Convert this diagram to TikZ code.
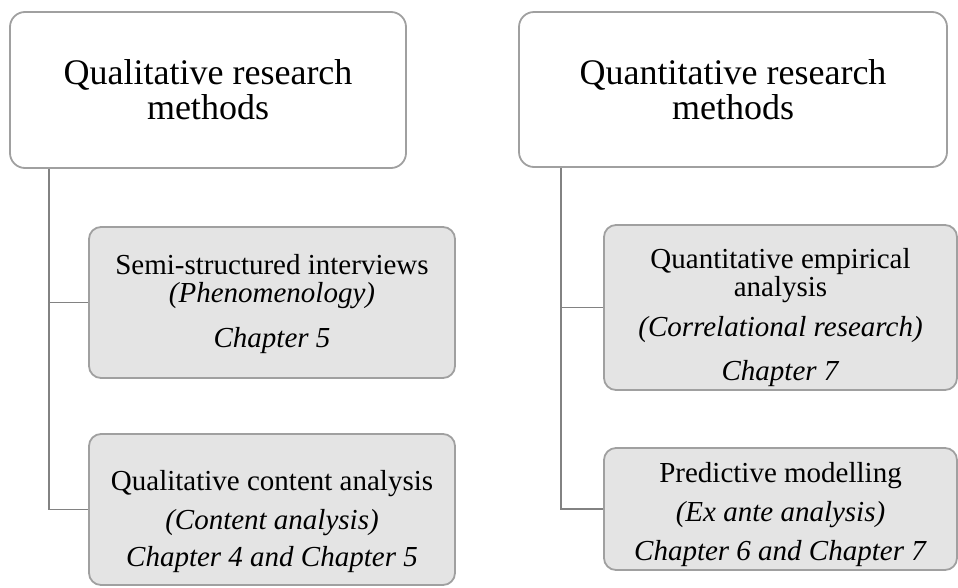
\documentclass[tikz,border=0pt]{standalone}
\usepackage{fontspec}
\setmainfont{Liberation Serif}
\definecolor{frameG}{RGB}{160,160,160}
\definecolor{fillG}{RGB}{228,228,228}
\definecolor{linkG}{RGB}{130,130,130}
\newcommand{\headfont}{\fontsize{36}{35}\selectfont}
\newcommand{\subfont}{\fontsize{29}{28}\selectfont}
% taller first line: pushes a centred block down
\newcommand{\lift}[1]{\rule{0pt}{#1}}

\begin{document}
\begin{tikzpicture}[
    x=1pt, y=-1pt,
    head/.style={draw=frameG, line width=1.8pt, fill=white, rounded corners=15pt,
      inner sep=0pt, align=center, font=\headfont},
    sub/.style={draw=frameG, line width=1.8pt, fill=fillG, rounded corners=12pt,
      inner sep=0pt, align=center, font=\subfont},
    link/.style={draw=linkG, line width=1.8pt},
  ]
  \useasboundingbox (0,0) rectangle (958,587);

  %% ================= qualitative side =================
  \node[head, minimum width=396pt, minimum height=156pt] (qual) at (208,90)
    {Qualitative research\\methods};
  \node[sub, minimum width=366pt, minimum height=151pt] (semi) at (272,302.5)
    {\lift{24pt}Semi-structured interviews\\\textit{(Phenomenology)}\\[17pt]\textit{Chapter 5}};
  \node[sub, minimum width=366pt, minimum height=151pt] (qca) at (272,509.5)
    {\lift{44pt}Qualitative content analysis\\[11pt]\textit{(Content analysis)}\\[9pt]\textit{Chapter 4 and Chapter 5}};

  %% ================= quantitative side =================
  \node[head, minimum width=428pt, minimum height=155pt] (quant) at (733,89.5)
    {Quantitative research\\methods};
  \node[sub, minimum width=353pt, minimum height=165pt] (emp) at (780.5,307.5)
    {\lift{40pt}Quantitative empirical\\analysis\\[12pt]\textit{(Correlational research)}\\[16pt]\textit{Chapter 7}};
  \node[sub, minimum width=353pt, minimum height=122pt] (pred) at (780.5,509)
    {\lift{32pt}Predictive modelling\\[11pt]\textit{(Ex ante analysis)}\\[11pt]\textit{Chapter 6 and Chapter 7}};

  %% ---- connectors ----
  \draw[link] ([xshift=40pt]qual.south west) |- (semi.west)
              ([xshift=40pt]qual.south west) |- (qca.west);
  \draw[link] ([xshift=43pt]quant.south west) |- (emp.west)
              ([xshift=43pt]quant.south west) |- (pred.west);

\end{tikzpicture}
\end{document}
